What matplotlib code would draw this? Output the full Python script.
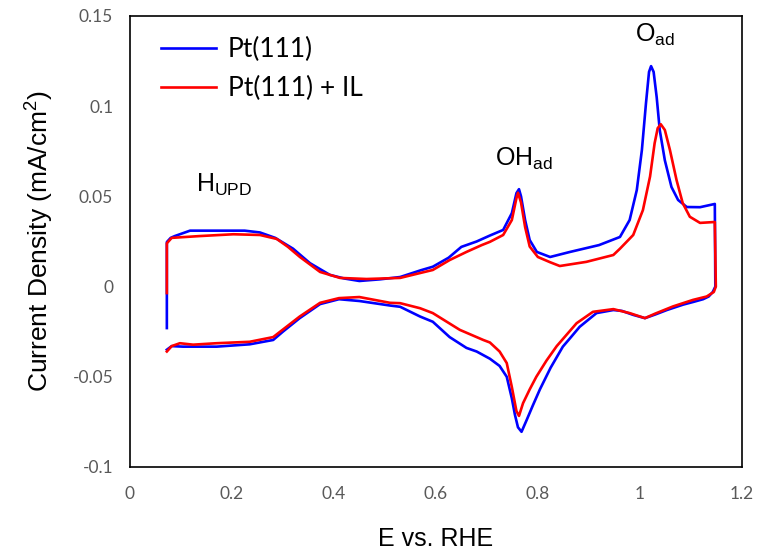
import matplotlib
matplotlib.use("Agg")
import matplotlib.pyplot as plt

plt.rcParams['mathtext.fontset'] = 'custom'
plt.rcParams['mathtext.rm'] = 'Liberation Sans'
plt.rcParams['mathtext.it'] = 'Liberation Sans:italic'

# Pt(111) cyclic voltammogram (anodic sweep, then cathodic sweep)
pt_x = [0.0725, 0.0725, 0.080, 0.088, 0.118, 0.16, 0.225, 0.255, 0.285, 0.32, 0.353,
        0.392, 0.42, 0.45, 0.49, 0.53, 0.57, 0.594, 0.625, 0.65, 0.68, 0.706, 0.732,
        0.749, 0.758, 0.763, 0.767, 0.775, 0.784, 0.798, 0.824, 0.863, 0.92, 0.961,
        0.980, 0.994, 1.004, 1.012, 1.018, 1.022, 1.027, 1.033, 1.039, 1.049, 1.062,
        1.075, 1.092, 1.118, 1.147,
        1.148, 1.143, 1.135, 1.124, 1.105, 1.085, 1.053, 1.03, 1.01, 0.987, 0.965,
        0.948, 0.915, 0.882, 0.865, 0.849, 0.825, 0.804, 0.79, 0.778, 0.768, 0.761,
        0.755, 0.749, 0.739, 0.725, 0.706, 0.68, 0.66, 0.627, 0.594, 0.569, 0.53, 0.51,
        0.45, 0.41, 0.373, 0.333, 0.3, 0.281, 0.235, 0.17, 0.104, 0.082, 0.0725]
pt_y = [-0.023, 0.0247, 0.027, 0.028, 0.031, 0.031, 0.031, 0.030, 0.027, 0.021, 0.013,
        0.0065, 0.0045, 0.0031, 0.0040, 0.0053, 0.009, 0.011, 0.016, 0.022, 0.025,
        0.0283, 0.0314, 0.0407, 0.0518, 0.054, 0.050, 0.0369, 0.0258, 0.0192, 0.0164,
        0.0192, 0.023, 0.0275, 0.0369, 0.0535, 0.0757, 0.1016, 0.119, 0.1222, 0.119,
        0.105, 0.0868, 0.070, 0.0552, 0.048, 0.0441, 0.044, 0.0458,
        0.0, -0.003, -0.0055, -0.007, -0.0085, -0.010, -0.013, -0.0155, -0.0175,
        -0.0157, -0.0135, -0.013, -0.0147, -0.0223, -0.028, -0.0333, -0.045, -0.057,
        -0.066, -0.074, -0.0805, -0.078, -0.071, -0.062, -0.050, -0.044, -0.040,
        -0.036, -0.034, -0.028, -0.0195, -0.0166, -0.0112, -0.0105, -0.008, -0.007,
        -0.0097, -0.0175, -0.025, -0.0296, -0.032, -0.0333, -0.0333, -0.033, -0.035]

# Pt(111) + IL
il_x = [0.0725, 0.0725, 0.082, 0.137, 0.203, 0.255, 0.288, 0.31, 0.333, 0.373, 0.412,
        0.464, 0.53, 0.569, 0.594, 0.627, 0.66, 0.69, 0.706, 0.732, 0.749, 0.758, 0.761,
        0.767, 0.775, 0.784, 0.8, 0.824, 0.843, 0.895, 0.948, 0.961, 0.987, 1.006, 1.02,
        1.029, 1.035, 1.041, 1.049, 1.059, 1.072, 1.084, 1.098, 1.118, 1.147,
        1.149, 1.145, 1.131, 1.104, 1.065, 1.03, 1.01, 0.98, 0.948, 0.908, 0.876, 0.837,
        0.817, 0.797, 0.784, 0.771, 0.763, 0.758, 0.749, 0.739, 0.725, 0.706, 0.693,
        0.647, 0.594, 0.569, 0.53, 0.51, 0.45, 0.41, 0.373, 0.333, 0.281, 0.235, 0.17,
        0.124, 0.098, 0.082, 0.0725]
il_y = [-0.0036, 0.024, 0.027, 0.028, 0.029, 0.0286, 0.0264, 0.022, 0.0165, 0.0081,
        0.0048, 0.0042, 0.0048, 0.0075, 0.0092, 0.0147, 0.0192, 0.023, 0.0248, 0.0286,
        0.0369, 0.049, 0.052, 0.0466, 0.033, 0.0222, 0.0164, 0.0135, 0.0114, 0.0137,
        0.0175, 0.021, 0.0286, 0.0424, 0.061, 0.0795, 0.0878, 0.090, 0.0868, 0.0757,
        0.059, 0.0463, 0.0387, 0.0353, 0.0358,
        0.0, -0.003, -0.0055, -0.0074, -0.011, -0.015, -0.0175, -0.0147, -0.0125,
        -0.014, -0.0203, -0.033, -0.041, -0.050, -0.057, -0.0646, -0.0717, -0.0690,
        -0.0557, -0.0424, -0.036, -0.031, -0.0296, -0.024, -0.0147, -0.012, -0.0092,
        -0.009, -0.0058, -0.0064, -0.009, -0.0166, -0.028, -0.0306, -0.0314, -0.0322,
        -0.0314, -0.033, -0.036]

x_ticks = [0, 0.2, 0.4, 0.6, 0.8, 1, 1.2]
x_tick_labels = ['0', '0.2', '0.4', '0.6', '0.8', '1', '1.2']
y_ticks = [-0.1, -0.05, 0, 0.05, 0.1, 0.15]
y_tick_labels = ['-0.1', '-0.05', '0', '0.05', '0.1', '0.15']

fig = plt.figure(figsize=(7.64, 5.51), dpi=100)
ax = fig.add_axes([0.170, 0.1525, 0.801, 0.8185])

ax.plot(pt_x, pt_y, color='#0000FF', lw=1.9, solid_joinstyle='round', label='Pt(111)')
ax.plot(il_x, il_y, color='#FF0000', lw=1.9, solid_joinstyle='round', label='Pt(111) + IL')

ax.set_xlim(0, 1.2)
ax.set_ylim(-0.1, 0.15)
ax.set_xticks(x_ticks)
ax.set_xticklabels(x_tick_labels)
ax.set_yticks(y_ticks)
ax.set_yticklabels(y_tick_labels)
ax.tick_params(axis='both', length=0, labelsize=12.5, labelcolor='#595959')
ax.tick_params(axis='x', pad=14)
ax.tick_params(axis='y', pad=12)
for lab in ax.get_xticklabels() + ax.get_yticklabels():
    lab.set_family('Lato')
for sp in ax.spines.values():
    sp.set_linewidth(1.2)
    sp.set_color('black')

ax.set_xlabel('E vs. RHE', fontsize=18, family='Liberation Sans', labelpad=18)
ax.set_ylabel('Current Density (mA/cm$^2$)', fontsize=19, family='Liberation Sans',
              labelpad=12)

ax.text(0.13, 0.0525, r'H$_{\mathrm{UPD}}$', fontsize=18, family='Liberation Sans')
ax.text(0.715, 0.067, r'OH$_{\mathrm{ad}}$', fontsize=18, family='Liberation Sans')
ax.text(0.99, 0.1355, r'O$_{\mathrm{ad}}$', fontsize=18, family='Liberation Sans')

ax.legend(loc='upper left', bbox_to_anchor=(0.02, 0.995), frameon=False,
          prop={'family': 'Lato', 'size': 19}, handlelength=2.1,
          handletextpad=0.45, labelspacing=0.55, borderpad=0.2)

fig.savefig('out.png', dpi=100)
